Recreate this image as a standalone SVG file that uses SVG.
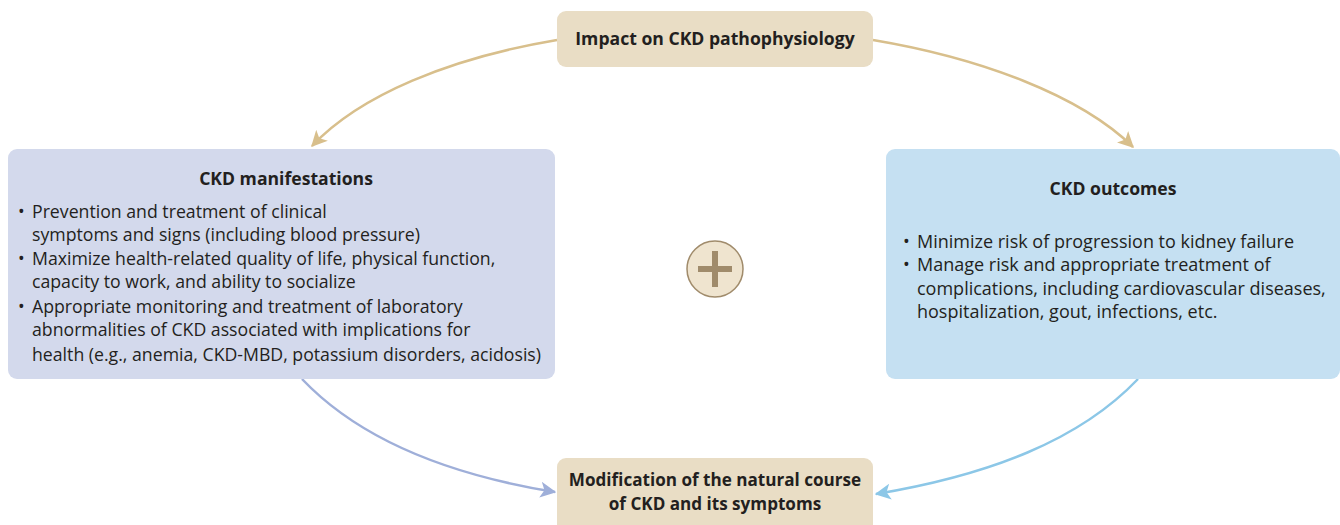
<svg xmlns="http://www.w3.org/2000/svg" width="1340" height="525" viewBox="0 0 1340 525">
<style>
.t{font-family:"Open Sans","Noto Sans","Liberation Sans",sans-serif;fill:#231f20;font-size:17.7px}
.r{font-size:18px}
.b{font-weight:bold;font-size:17.6px}
.s{font-size:17.1px}
.c{text-anchor:middle}
.tan{fill:#e9ddc5}
</style>
<defs>
<marker id="ahT" viewBox="0 0 12 12" refX="11" refY="6" markerWidth="16" markerHeight="16" orient="auto" markerUnits="userSpaceOnUse"><path d="M0,0 L12,6 L0,12 L3,6 z" fill="#d8bf8c"/></marker>
<marker id="ahL" viewBox="0 0 12 12" refX="11" refY="6" markerWidth="16" markerHeight="16" orient="auto" markerUnits="userSpaceOnUse"><path d="M0,0 L12,6 L0,12 L3,6 z" fill="#9fafd9"/></marker>
<marker id="ahR" viewBox="0 0 12 12" refX="11" refY="6" markerWidth="16" markerHeight="16" orient="auto" markerUnits="userSpaceOnUse"><path d="M0,0 L12,6 L0,12 L3,6 z" fill="#8cc7e7"/></marker>
</defs>
<rect width="1340" height="525" fill="#fff"/>
<g id="connectors" fill="none" stroke-width="2.5">
<path d="M557,40 C450,58 360,95 312,146" stroke="#d8bf8c" marker-end="url(#ahT)"/>
<path d="M873,40 C980,58 1080,95 1133,147" stroke="#d8bf8c" marker-end="url(#ahT)"/>
<path d="M302,379 C360,440 450,475 555,492" stroke="#9fafd9" marker-end="url(#ahL)"/>
<path d="M1138,379 C1080,440 990,475 876,494" stroke="#8cc7e7" marker-end="url(#ahR)"/>
</g>
<g id="node-top">
<rect x="557" y="11" width="316" height="56" rx="9" class="tan"/>
<text x="715" y="45" class="t b c">Impact on CKD pathophysiology</text>
</g>
<g id="node-left">
<rect x="8" y="149" width="547" height="230" rx="9" fill="#d3d9ec"/>
<text x="286" y="185" class="t b c">CKD manifestations</text>
<g class="t">
<text x="18" y="218">•</text><text x="32" y="218">Prevention and treatment of clinical</text>
<text x="32" y="241">symptoms and signs (including blood pressure)</text>
<text x="18" y="265">•</text><text x="32" y="265">Maximize health-related quality of life, physical function,</text>
<text x="32" y="288">capacity to work, and ability to socialize</text>
<text x="18" y="313">•</text><text x="32" y="313">Appropriate monitoring and treatment of laboratory</text>
<text x="32" y="336">abnormalities of CKD associated with implications for</text>
<text x="32" y="361">health (e.g., anemia, CKD-MBD, potassium disorders, acidosis)</text>
</g>
</g>
<g id="node-plus">
<circle cx="715" cy="269" r="28" fill="#efe4cf" stroke="#a08b6b" stroke-width="1.5"/>
<rect x="698" y="266" width="34" height="6" fill="#a08b6b"/>
<rect x="712" y="251" width="6" height="36" fill="#a08b6b"/>
</g>
<g id="node-right">
<rect x="886" y="149" width="454" height="230" rx="9" fill="#c5e0f2"/>
<text x="1113" y="195" class="t b c">CKD outcomes</text>
<g class="t r">
<text x="903" y="248">•</text><text x="917" y="248">Minimize risk of progression to kidney failure</text>
<text x="903" y="271">•</text><text x="917" y="271">Manage risk and appropriate treatment of</text>
<text x="917" y="295">complications, including cardiovascular diseases,</text>
<text x="917" y="318">hospitalization, gout, infections, etc.</text>
</g>
</g>
<g id="node-bottom">
<rect x="557" y="458" width="316" height="80" rx="9" class="tan"/>
<text x="715" y="486" class="t b c s">Modification of the natural course</text>
<text x="715" y="510" class="t b c s">of CKD and its symptoms</text>
</g>
</svg>
